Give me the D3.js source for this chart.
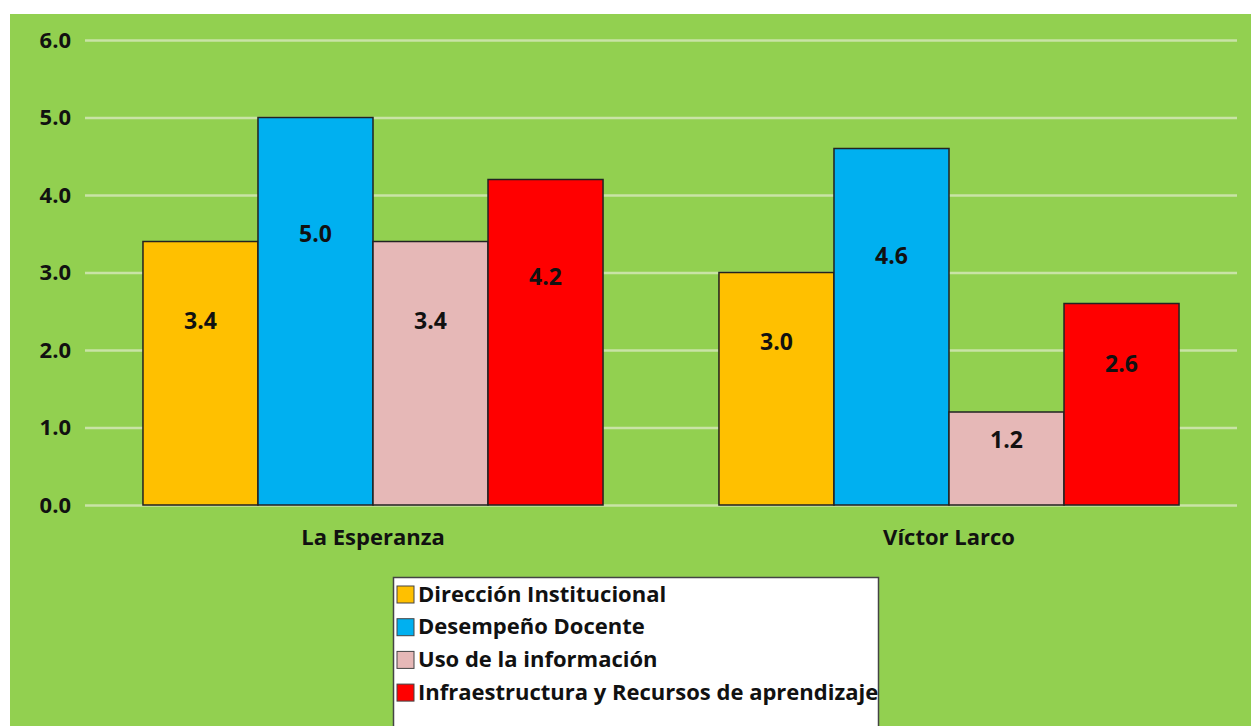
<!DOCTYPE html>
<html>
<head>
<meta charset="utf-8">
<script src="https://cdn.jsdelivr.net/npm/d3@7"></script>
<style>
  html, body { margin: 0; padding: 0; background: #ffffff; }
  svg { display: block; }
  text { font-family: "Open Sans", "Noto Sans", sans-serif; font-weight: bold; fill: #111; }
</style>
</head>
<body>
<svg id="chart" width="1251" height="726"></svg>
<script>
const categories = ["La Esperanza", "Víctor Larco"];
const seriesNames = ["Dirección Institucional", "Desempeño Docente", "Uso de la información", "Infraestructura y Recursos de aprendizaje"];
const seriesColors = ["#ffc000", "#00b0f0", "#e6b8b7", "#ff0000"];
const direccion = [3.4, 3.0];
const desempeno = [5.0, 4.6];
const usoInfo = [3.4, 1.2];
const infraestructura = [4.2, 2.6];
const yTicks = [0, 1, 2, 3, 4, 5, 6];

const seriesValues = [direccion, desempeno, usoInfo, infraestructura];
const rows = [];
categories.forEach((c, ci) => {
  seriesNames.forEach((s, si) => rows.push({cat: c, series: s, si, value: seriesValues[si][ci]}));
});

const svg = d3.select("#chart");
const W = 1251, H = 726;
const margin = {left: 85, right: 14, top: 40, bottom: 221};

svg.append("rect").attr("x", 10).attr("y", 14).attr("width", W - 10).attr("height", H - 14)
  .attr("fill", "#92d050");

const x0 = d3.scaleBand().domain(categories).range([margin.left, W - margin.right]).paddingInner(0).paddingOuter(0);
const x1 = d3.scaleBand().domain(seriesNames).range([0, x0.bandwidth()]).paddingInner(0).paddingOuter(0.504);
const y = d3.scaleLinear().domain([0, 6]).range([H - margin.bottom, margin.top]);
const color = d3.scaleOrdinal().domain(seriesNames).range(seriesColors);

// gridlines + y tick labels
const yAxis = d3.axisLeft(y).tickValues(yTicks).tickFormat(d3.format(".1f"))
  .tickSize(-(W - margin.right - margin.left)).tickPadding(14);
const ga = svg.append("g").attr("transform", `translate(${margin.left},0)`).call(yAxis);
ga.select(".domain").remove();
ga.selectAll(".tick line").attr("stroke", "#c9e3a6").attr("stroke-width", 2.5);
ga.selectAll(".tick text").attr("font-size", 22).attr("font-family", "Open Sans, sans-serif").attr("font-weight", "bold").attr("fill", "#111");

// bars
svg.append("g").selectAll("rect").data(rows).join("rect")
  .attr("x", d => x0(d.cat) + x1(d.series))
  .attr("y", d => y(d.value))
  .attr("width", x1.bandwidth())
  .attr("height", d => y(0) - y(d.value))
  .attr("fill", d => color(d.series))
  .attr("stroke", "#222").attr("stroke-width", 1.5);

// value labels
svg.append("g").selectAll("text").data(rows).join("text")
  .attr("x", d => x0(d.cat) + x1(d.series) + x1.bandwidth() / 2)
  .attr("y", d => y(d.value * 0.7))
  .attr("dy", "0.35em")
  .attr("text-anchor", "middle")
  .attr("font-size", 23)
  .text(d => d3.format(".1f")(d.value));

// category labels
svg.append("g").selectAll("text").data(categories).join("text")
  .attr("x", d => x0(d) + x0.bandwidth() / 2)
  .attr("y", y(0) + 32)
  .attr("dy", "0.35em")
  .attr("text-anchor", "middle")
  .attr("font-size", 22)
  .text(d => d);

// legend
const lg = svg.append("g");
lg.append("rect").attr("x", 393.5).attr("y", 577.5).attr("width", 485).attr("height", 160)
  .attr("fill", "#ffffff").attr("stroke", "#444").attr("stroke-width", 1.5);
const items = lg.selectAll("g.item").data(seriesNames).join("g").attr("class", "item")
  .attr("transform", (d, i) => `translate(397, ${594 + i * 32.7})`);
items.append("rect").attr("x", 0).attr("y", -8).attr("width", 17).attr("height", 17)
  .attr("fill", d => color(d)).attr("stroke", "#444").attr("stroke-width", 1);
items.append("text").attr("x", 21).attr("dy", "0.35em").attr("font-size", 22).text(d => d);
</script>
</body>
</html>
